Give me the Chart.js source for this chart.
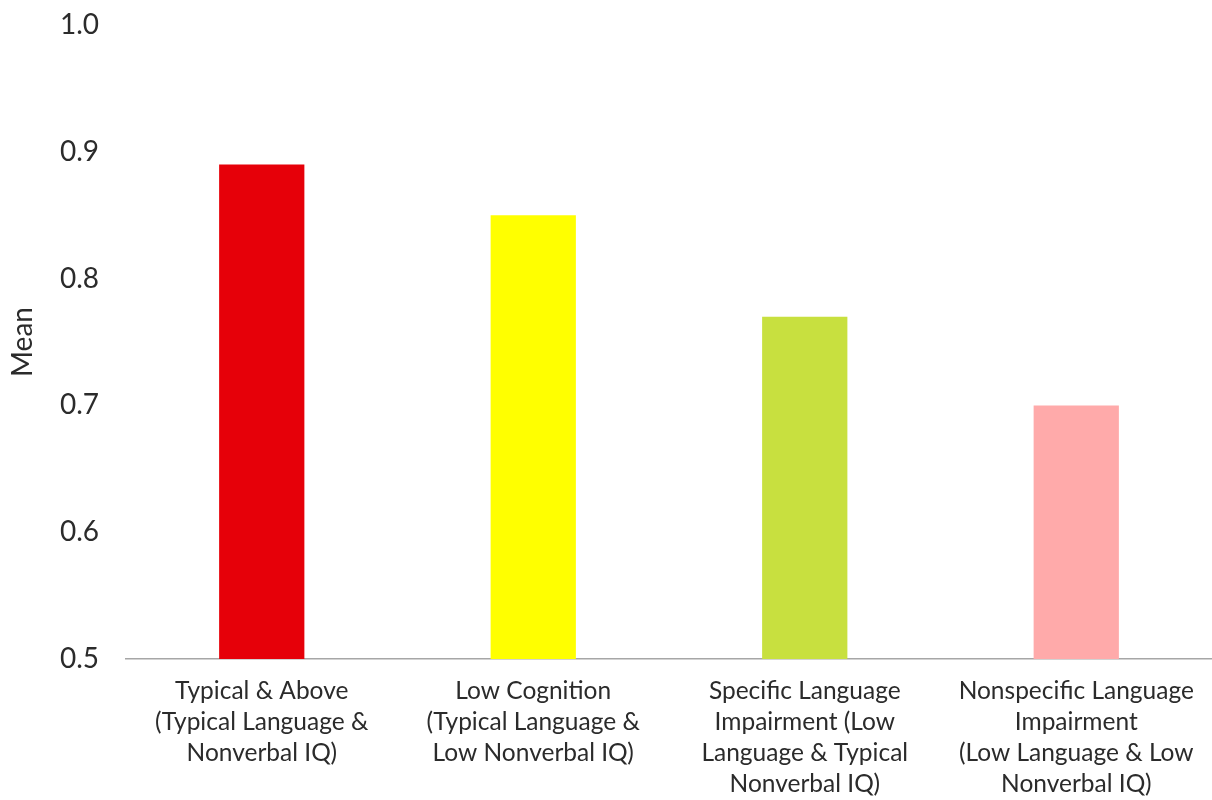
<!DOCTYPE html>
<html>
<head>
<meta charset="utf-8">
<script src="https://cdn.jsdelivr.net/npm/chart.js@4"></script>
<style>
  html, body { margin: 0; padding: 0; background: #fff; }
  #wrap { width: 1212px; height: 800px; }
</style>
</head>
<body>
<div id="wrap"><canvas id="chart"></canvas></div>
<script>
// groups and their mean scores
var groups = [
    ['Typical & Above', '(Typical Language &', 'Nonverbal IQ)'],
    ['Low Cognition', '(Typical Language &', 'Low Nonverbal IQ)'],
    ['Specific Language', 'Impairment (Low', 'Language & Typical', 'Nonverbal IQ)'],
    ['Nonspecific Language', 'Impairment', '(Low Language & Low', 'Nonverbal IQ)']
];
var means = [0.89, 0.85, 0.77, 0.70];
var barColors = ['#e60009', '#ffff00', '#c8e03f', '#ffaaaa'];
var yTicks = [0.5, 0.6, 0.7, 0.8, 0.9, 1.0];

var textColor = '#2b2b2b';
var fontFamily = 'Lato, "Open Sans", sans-serif';

new Chart(document.getElementById('chart'), {
    type: 'bar',
    data: {
        labels: groups,
        datasets: [{
            data: means,
            backgroundColor: barColors,
            categoryPercentage: 1,
            barPercentage: 0.314
        }]
    },
    options: {
        responsive: true,
        maintainAspectRatio: false,
        animation: false,
        layout: { padding: { top: 25, right: 0, left: 0, bottom: 0 } },
        plugins: {
            legend: { display: false },
            tooltip: { enabled: false }
        },
        scales: {
            x: {
                grid: { display: false, drawTicks: false },
                border: { display: true, color: '#a6a6a6', width: 1.5 },
                ticks: {
                    color: textColor,
                    font: { family: fontFamily, size: 24.5, lineHeight: 1.26 },
                    padding: 17,
                    maxRotation: 0,
                    autoSkip: false
                },
                afterFit: function (scale) { scale.height = 141; }
            },
            y: {
                min: 0.5,
                max: 1.0,
                afterBuildTicks: function (scale) {
                    scale.ticks = yTicks.map(function (v) { return { value: v }; });
                },
                grid: { display: false, drawTicks: false },
                border: { display: false },
                ticks: {
                    color: textColor,
                    font: { family: fontFamily, size: 28 },
                    padding: 27,
                    callback: function (v) { return v.toFixed(1); }
                },
                title: {
                    display: true,
                    text: 'Mean',
                    color: textColor,
                    font: { family: fontFamily, size: 28 },
                    padding: { top: 6, bottom: 0 }
                },
                afterFit: function (scale) {
                    // fixed gutter; let the top label overhang into the padding
                    scale.width = 126;
                    scale.paddingTop = 0;
                    scale.paddingBottom = 0;
                }
            }
        }
    }
});
</script>
</body>
</html>
